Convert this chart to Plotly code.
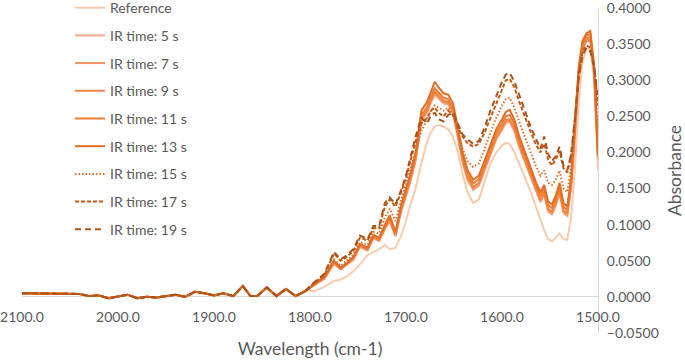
import plotly.graph_objects as go

# wavenumbers (cm-1): flat baseline part, then the active part
WN_BASE = [2100, 2080, 2060, 2040, 2030, 2020, 2010, 2000, 1990, 1980, 1970, 1960, 1950, 1940,
           1930, 1920, 1910, 1900, 1890, 1880, 1870, 1862, 1855, 1845, 1835, 1825, 1815, 1805]
WN_ACTIVE = [1795, 1785, 1775, 1768, 1762, 1755, 1748, 1740, 1734, 1728, 1722, 1717, 1711, 1705,
             1700, 1696, 1690, 1684, 1678, 1674, 1670, 1666, 1661, 1656, 1651, 1646, 1641, 1636,
             1630, 1624, 1618, 1612, 1606, 1600, 1596, 1592, 1587, 1582, 1576, 1570, 1565, 1560,
             1556, 1552, 1548, 1544, 1540, 1536, 1532, 1528, 1524, 1520, 1516, 1512, 1508, 1504, 1500]

# baseline shared by all series (curves overlap there)
BASELINE = [0.005, 0.005, 0.004, 0.004, 0.001, 0.002, -0.002, 0.001, 0.003, -0.002, 0.000, -0.001,
            0.001, 0.003, 0.000, 0.007, 0.005, 0.002, 0.005, 0.001, 0.015, 0.001, 0.001, 0.013,
            0.001, 0.011, 0.001, 0.008]

REF = [0.008, 0.014, 0.022, 0.024, 0.028, 0.035, 0.045, 0.058, 0.062, 0.066, 0.072, 0.066, 0.068, 0.085,
       0.105, 0.125, 0.150, 0.185, 0.215, 0.228, 0.236, 0.238, 0.236, 0.232, 0.222, 0.200, 0.170, 0.145,
       0.130, 0.135, 0.160, 0.185, 0.200, 0.210, 0.213, 0.212, 0.200, 0.185, 0.165, 0.145, 0.125, 0.105,
       0.092, 0.080, 0.077, 0.082, 0.088, 0.080, 0.079, 0.110, 0.180, 0.270, 0.325, 0.343, 0.345, 0.300, 0.175]
S5 = [0.017, 0.025, 0.046, 0.038, 0.044, 0.051, 0.069, 0.064, 0.081, 0.077, 0.094, 0.104, 0.084, 0.118,
      0.139, 0.157, 0.188, 0.243, 0.255, 0.269, 0.280, 0.275, 0.268, 0.266, 0.254, 0.221, 0.186, 0.162,
      0.148, 0.154, 0.176, 0.198, 0.218, 0.231, 0.241, 0.242, 0.229, 0.207, 0.186, 0.166, 0.146, 0.131,
      0.141, 0.118, 0.114, 0.126, 0.143, 0.116, 0.112, 0.152, 0.226, 0.306, 0.344, 0.354, 0.355, 0.308, 0.192]
S7 = [0.017, 0.026, 0.047, 0.039, 0.045, 0.052, 0.070, 0.065, 0.082, 0.078, 0.095, 0.105, 0.085, 0.120,
      0.141, 0.159, 0.190, 0.245, 0.257, 0.271, 0.282, 0.277, 0.270, 0.268, 0.256, 0.223, 0.188, 0.164,
      0.150, 0.156, 0.178, 0.200, 0.220, 0.233, 0.243, 0.244, 0.231, 0.209, 0.188, 0.168, 0.148, 0.133,
      0.143, 0.120, 0.116, 0.128, 0.145, 0.118, 0.114, 0.154, 0.228, 0.308, 0.346, 0.356, 0.357, 0.310, 0.193]
S9 = [0.018, 0.026, 0.048, 0.039, 0.045, 0.053, 0.071, 0.066, 0.083, 0.079, 0.096, 0.107, 0.086, 0.122,
      0.143, 0.161, 0.192, 0.247, 0.259, 0.273, 0.284, 0.279, 0.272, 0.270, 0.258, 0.225, 0.190, 0.166,
      0.152, 0.158, 0.180, 0.202, 0.222, 0.235, 0.245, 0.246, 0.233, 0.211, 0.190, 0.170, 0.150, 0.135,
      0.145, 0.122, 0.118, 0.130, 0.147, 0.120, 0.116, 0.156, 0.230, 0.310, 0.348, 0.358, 0.360, 0.312, 0.195]
S11 = [0.018, 0.027, 0.049, 0.040, 0.046, 0.054, 0.072, 0.067, 0.085, 0.081, 0.098, 0.110, 0.088, 0.125,
       0.146, 0.165, 0.196, 0.252, 0.263, 0.278, 0.289, 0.283, 0.276, 0.274, 0.262, 0.229, 0.195, 0.171,
       0.157, 0.163, 0.185, 0.207, 0.227, 0.240, 0.250, 0.252, 0.239, 0.217, 0.195, 0.175, 0.155, 0.140,
       0.150, 0.127, 0.123, 0.135, 0.152, 0.125, 0.120, 0.160, 0.235, 0.315, 0.352, 0.362, 0.364, 0.315, 0.197]
S13 = [0.018, 0.027, 0.050, 0.040, 0.047, 0.055, 0.073, 0.068, 0.086, 0.082, 0.100, 0.113, 0.090, 0.128,
       0.150, 0.168, 0.200, 0.258, 0.270, 0.285, 0.298, 0.290, 0.282, 0.280, 0.268, 0.235, 0.200, 0.176,
       0.162, 0.168, 0.190, 0.212, 0.232, 0.246, 0.256, 0.259, 0.245, 0.222, 0.200, 0.180, 0.160, 0.145,
       0.155, 0.132, 0.128, 0.140, 0.158, 0.130, 0.125, 0.165, 0.240, 0.320, 0.355, 0.365, 0.368, 0.320, 0.200]
S15 = [0.019, 0.028, 0.052, 0.043, 0.050, 0.058, 0.076, 0.072, 0.090, 0.088, 0.110, 0.122, 0.105, 0.135,
       0.158, 0.175, 0.200, 0.230, 0.245, 0.258, 0.265, 0.262, 0.258, 0.262, 0.252, 0.228, 0.205, 0.188,
       0.180, 0.185, 0.205, 0.228, 0.248, 0.265, 0.274, 0.276, 0.262, 0.242, 0.222, 0.200, 0.182, 0.168,
       0.175, 0.158, 0.155, 0.162, 0.175, 0.150, 0.145, 0.180, 0.245, 0.315, 0.345, 0.355, 0.355, 0.315, 0.230]
S17 = [0.020, 0.030, 0.060, 0.050, 0.055, 0.063, 0.082, 0.078, 0.095, 0.095, 0.125, 0.135, 0.125, 0.145,
       0.165, 0.185, 0.215, 0.240, 0.248, 0.258, 0.262, 0.255, 0.250, 0.258, 0.252, 0.235, 0.222, 0.213,
       0.208, 0.212, 0.228, 0.248, 0.268, 0.288, 0.300, 0.302, 0.290, 0.270, 0.248, 0.228, 0.212, 0.200,
       0.212, 0.190, 0.182, 0.190, 0.202, 0.178, 0.172, 0.195, 0.245, 0.305, 0.340, 0.348, 0.345, 0.320, 0.265]
S19 = [0.021, 0.032, 0.062, 0.052, 0.057, 0.066, 0.085, 0.080, 0.098, 0.098, 0.130, 0.138, 0.128, 0.148,
       0.168, 0.190, 0.222, 0.248, 0.240, 0.252, 0.255, 0.246, 0.243, 0.252, 0.255, 0.240, 0.225, 0.218,
       0.212, 0.216, 0.235, 0.258, 0.278, 0.298, 0.308, 0.310, 0.298, 0.280, 0.258, 0.235, 0.220, 0.205,
       0.222, 0.198, 0.188, 0.195, 0.208, 0.182, 0.175, 0.198, 0.248, 0.305, 0.335, 0.345, 0.340, 0.318, 0.272]

NAMES = ["Reference", "IR time: 5 s", "IR time: 7 s", "IR time: 9 s", "IR time: 11 s",
         "IR time: 13 s", "IR time: 15 s", "IR time: 17 s", "IR time: 19 s"]
SERIES = [REF, S5, S7, S9, S11, S13, S15, S17, S19]
COLORS = ["#F8CBAD", "#F4A889", "#F59466", "#F3853F", "#ED7D31", "#E06E26", "#D9702E", "#C55A11", "#A9541F"]
DASHES = ["solid", "solid", "solid", "solid", "solid", "solid", "1.5px,2px", "4px,2px", "6px,4px"]

X_TICKS = [2100, 2000, 1900, 1800, 1700, 1600, 1500]
Y_TICKS = [-0.05, 0.0, 0.05, 0.1, 0.15, 0.2, 0.25, 0.3, 0.35, 0.4]

FONT = "Lato, 'Liberation Sans', Arial, sans-serif"
GREY = "#595959"

wn = WN_BASE + WN_ACTIVE
fig = go.Figure()
for i, (name, vals, col, dash) in enumerate(zip(NAMES, SERIES, COLORS, DASHES)):
    fig.add_trace(go.Scatter(
        x=wn, y=BASELINE + vals, mode="lines", name=name,
        legendgroup=f"g{i}",
        line=dict(color=col, width=2, dash=dash),
    ))

legend = dict(
    x=0.0833, y=1.049, xanchor="left", yanchor="top",
    bgcolor="rgba(0,0,0,0)", traceorder="grouped", tracegroupgap=6.5,
    font=dict(size=14, color=GREY),
)

fig.update_layout(
    width=685, height=360,
    margin=dict(l=22, r=87, t=8, b=27, autoexpand=False),
    paper_bgcolor="white", plot_bgcolor="white",
    font=dict(family=FONT, color=GREY, size=14),
    showlegend=True,
    legend=legend,
    xaxis=dict(
        range=[2100, 1500], tickvals=X_TICKS, tickformat=".1f",
        showgrid=False, zeroline=False, showline=False, ticks="",
        anchor="free", position=0.05 / 0.45, ticklabelstandoff=10,
        title=dict(text="Wavelength (cm-1)", font=dict(size=17.5, color=GREY), standoff=18),
        automargin=False,
    ),
    yaxis=dict(
        side="right", range=[-0.0501, 0.4001], tickvals=Y_TICKS, tickformat=".4f",
        showgrid=False, showline=True, linecolor="#D9D9D9", linewidth=1,
        zeroline=True, zerolinecolor="#D9D9D9", zerolinewidth=1, ticks="",
        ticklabelstandoff=5, ticklabeloverflow="allow",
        title=dict(text="Absorbance", font=dict(size=17.5, color=GREY), standoff=16),
        automargin=False,
    ),
)
try:
    fig.update_layout(legend_maxheight=1000)
except Exception:
    pass

fig.write_html("out.html", config={"displayModeBar": False},
               post_script="document.body.style.margin='0';")
